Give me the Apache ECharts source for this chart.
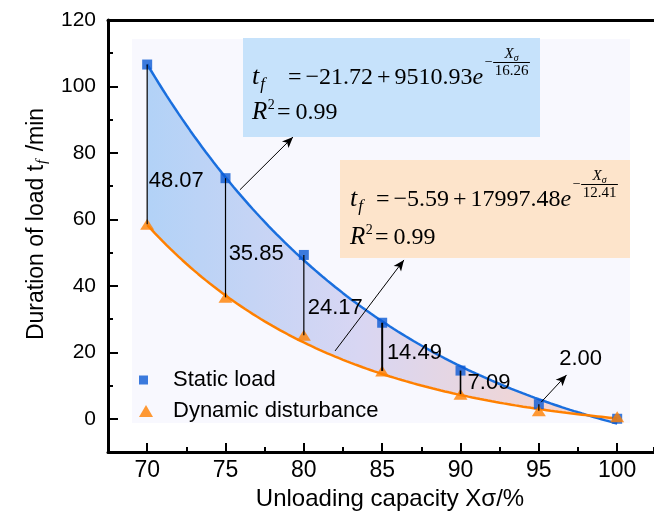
<!DOCTYPE html>
<html>
<head>
<meta charset="utf-8">
<script src="https://cdn.jsdelivr.net/npm/echarts@6/dist/echarts.min.js"></script>
<style>
  html, body { margin: 0; padding: 0; background: #fff; }
  #chart { width: 654px; height: 518px; }
</style>
</head>
<body>
<div id="chart"></div>
<script>
// Unloading capacity (%) and measured load duration (min)
const unloading = [70, 75, 80, 85, 90, 95, 100];
const staticLoad = [106.6, 72.4, 49.3, 28.9, 14.5, 4.4, 0.0];
const dynamicDisturbance = [58.53, 36.55, 25.13, 14.41, 7.41, 2.40, 0.6];

// Axis ticks
const xTicks = [70, 75, 80, 85, 90, 95, 100];
const yTicks = [0, 20, 40, 60, 80, 100, 120];

// Fitted model t_f = a + b * exp(-X / c)
const staticFit = [-21.72, 9510.93, 16.26];
const dynamicFit = [-5.59, 17997.48, 12.41];
const staticR2 = 0.99;
const dynamicR2 = 0.99;

const SANS = "'Liberation Sans', Arial, sans-serif";
const SERIF = "'Liberation Serif', 'Times New Roman', serif";

function fitValue(c, x) { return c[0] + c[1] * Math.exp(-x / c[2]); }
function fitCurve(c) {
  const pts = [];
  const x0 = xTicks[0], x1 = xTicks[xTicks.length - 1];
  for (let x = x0; x <= x1 + 1e-9; x += 0.25) pts.push([x, fitValue(c, x)]);
  return pts;
}
const staticCurve = fitCurve(staticFit);
const dynamicCurve = fitCurve(dynamicFit);

// gap between the two responses at each unloading level
const gapRows = unloading.slice(0, 6).map((x, i) => [x, staticLoad[i], dynamicDisturbance[i]]);
// where each gap value is written (value space) and the width of its connector
const gapLabelAt = [[70.1, 71.6], [75.2, 49.6], [80.25, 33.3], [85.3, 19.9], [90.45, 10.9], [96.3, 18.0]];
const gapLineWidth = [1.2, 1.2, 1.2, 2, 1.6, 1.2];

// ---- equation text helpers ----
const measureCtx = document.createElement('canvas').getContext('2d');
function textWidth(str, font) { measureCtx.font = font; return measureCtx.measureText(str).width; }
function signed(v) { return (v < 0 ? '\u2212' : '') + Math.abs(v).toFixed(2); }
function piece(els, str, x, baseline, size, italic) {
  const font = (italic ? 'italic ' : '') + size + 'px ' + SERIF;
  els.push({
    type: 'text', z: 12, silent: true,
    style: { text: str, x: x, y: baseline - 0.32 * size, font: font, fill: '#000', align: 'left', verticalAlign: 'middle' }
  });
  return textWidth(str, font);
}
// x0: left of "t_f", eqX: left of "=", y1/y2: baselines of the two lines
function equation(x0, eqX, y1, y2, c, r2) {
  const els = [];
  const M = 24;
  let x = x0;
  x += piece(els, 't', x, y1, 26, true);
  piece(els, 'f', x + 1, y1 + 5, 17, true);
  x = eqX;
  x += piece(els, '=', x, y1, M, false) + 4;
  x += piece(els, signed(c[0]), x, y1, M, false) + 4;
  x += piece(els, '+', x, y1, M, false) + 4;
  x += piece(els, c[1].toFixed(2), x, y1, M, false);
  x += piece(els, 'e', x, y1, M, true);
  // exponent: -X_sigma / c
  const mx = x + 1.5;
  const mw = piece(els, '\u2212', mx, y1 - 18, 14, false);
  const den = c[2].toFixed(2);
  const dw = textWidth(den, '15px ' + SERIF);
  const bx0 = mx + mw + 0.5, bx1 = bx0 + dw + 3;
  els.push({ type: 'line', z: 12, silent: true, shape: { x1: bx0, y1: y1 - 22.5, x2: bx1, y2: y1 - 22.5 }, style: { stroke: '#000', lineWidth: 1 } });
  const cx = (bx0 + bx1) / 2;
  const xw = textWidth('X', 'italic 15px ' + SERIF), sw = textWidth('\u03c3', 'italic 10px ' + SERIF);
  const nx = cx - (xw + sw) / 2;
  piece(els, 'X', nx, y1 - 26, 15, true);
  piece(els, '\u03c3', nx + xw, y1 - 23.5, 10, true);
  piece(els, den, cx - dw / 2, y1 - 9, 15, false);
  // R^2 line
  let rx = x0;
  rx += piece(els, 'R', rx, y2, 25, true);
  piece(els, '2', rx + 0.5, y2 - 10, 14, false);
  rx = x0 + 25;
  rx += piece(els, '=', rx, y2, M, false) + 5;
  piece(els, r2.toFixed(2), rx, y2, M, false);
  return els;
}

const graphicEls = [
  // pale inner panel
  { type: 'rect', z: 0, silent: true, shape: { x: 132, y: 39, width: 498, height: 384 }, style: { fill: '#f8f8fe' } },
  // equation boxes
  { type: 'rect', z: 11, silent: true, shape: { x: 243, y: 38, width: 297, height: 99 }, style: { fill: '#c6e2fb' } },
  { type: 'rect', z: 11, silent: true, shape: { x: 340, y: 160, width: 290, height: 98 }, style: { fill: '#fde4cb' } },
  // y axis title
  {
    type: 'text', z: 12, silent: true, x: 37, y: 224, rotation: Math.PI / 2,
    style: {
      text: '{a|Duration of load t}{b|f}{a| /min}', align: 'center', verticalAlign: 'middle',
      rich: {
        a: { fontSize: 23, fontFamily: SANS, fill: '#000', lineHeight: 26 },
        b: { fontSize: 15, fontFamily: SERIF, fontStyle: 'italic', fill: '#000', padding: [10, 2, 0, 1] }
      }
    }
  }
].concat(equation(252, 288, 85, 120, staticFit, staticR2), equation(350, 376, 207, 245, dynamicFit, dynamicR2));

const chart = echarts.init(document.getElementById('chart'), null, { renderer: 'canvas' });

const axisText = { color: '#000', fontFamily: SANS };
const X_MIN = 67.5, X_MAX = 102.35;

chart.setOption({
  animation: false,
  backgroundColor: '#fff',
  grid: { left: 108, top: 20, bottom: 66, right: 0, containLabel: false },
  xAxis: [
    {
      type: 'value', min: X_MIN, max: X_MAX, interval: 2.5, position: 'bottom',
      axisLine: { onZero: false, lineStyle: { color: '#000', width: 3 } },
      axisTick: { inside: true, length: 9, lineStyle: { color: '#000', width: 2 }, customValues: xTicks },
      axisLabel: { ...axisText, fontSize: 23, margin: 7, customValues: xTicks },
      splitLine: { show: false },
      name: 'Unloading capacity X\u03c3/%', nameLocation: 'middle', nameGap: 34,
      nameTextStyle: { ...axisText, fontSize: 24, padding: [0, 0, 0, 18] }
    },
    {
      type: 'value', min: X_MIN, max: X_MAX, interval: 2.5, position: 'bottom',
      axisLine: { show: false, onZero: false },
      axisTick: { inside: true, length: 5, lineStyle: { color: '#000', width: 2 } },
      axisLabel: { show: false }, splitLine: { show: false }
    },
    {
      type: 'value', min: X_MIN, max: X_MAX, position: 'top',
      axisLine: { onZero: false, lineStyle: { color: '#000', width: 3 } },
      axisTick: { show: false }, axisLabel: { show: false }, splitLine: { show: false }
    }
  ],
  yAxis: [
    {
      type: 'value', min: -10, max: 120, interval: 10, position: 'left',
      axisLine: { onZero: false, lineStyle: { color: '#000', width: 3 } },
      axisTick: { inside: true, length: 10, lineStyle: { color: '#000', width: 2 }, customValues: yTicks },
      axisLabel: { ...axisText, fontSize: 21, margin: 12, customValues: yTicks },
      splitLine: { show: false }
    },
    {
      type: 'value', min: -10, max: 120, interval: 10, position: 'left',
      axisLine: { show: false, onZero: false },
      axisTick: { inside: true, length: 5, lineStyle: { color: '#000', width: 2 } },
      axisLabel: { show: false }, splitLine: { show: false }
    }
  ],
  legend: [
    {
      data: [{ name: 'Static load', icon: 'rect' }],
      left: 134, top: 364, itemWidth: 9, itemHeight: 9, selectedMode: false,
      formatter: n => '{s|}' + n,
      textStyle: { ...axisText, fontSize: 22, rich: { s: { width: 20 } } }
    },
    {
      data: [{ name: 'Dynamic disturbance', icon: 'triangle' }],
      left: 134, top: 395, itemWidth: 14, itemHeight: 12, selectedMode: false,
      formatter: n => '{s|}' + n,
      textStyle: { ...axisText, fontSize: 22, rich: { s: { width: 15 } } }
    }
  ],
  graphic: { elements: graphicEls },
  series: [
    {
      // shaded band between the two fitted curves
      type: 'custom', z: 1, silent: true,
      data: [[unloading[0], 0]], encode: { x: 0, y: 1 },
      renderItem(params, api) {
        const pts = staticCurve.map(p => api.coord(p))
          .concat(dynamicCurve.slice().reverse().map(p => api.coord(p)));
        return {
          type: 'polygon', shape: { points: pts },
          style: {
            fill: new echarts.graphic.LinearGradient(0, 0, 1, 0, [
              { offset: 0, color: '#b2d2f7' },
              { offset: 0.45, color: '#d8d6f3' },
              { offset: 1, color: '#fdd6c6' }
            ])
          }
        };
      }
    },
    {
      name: 'Static fit', type: 'line', z: 3, silent: true, showSymbol: false,
      data: staticCurve, lineStyle: { color: '#1a6fde', width: 2.5 }
    },
    {
      name: 'Dynamic fit', type: 'line', z: 3, silent: true, showSymbol: false,
      data: dynamicCurve, lineStyle: { color: '#ff8000', width: 2.5 }
    },
    {
      name: 'Static load', type: 'scatter', z: 4, symbol: 'rect', symbolSize: 10,
      data: unloading.map((x, i) => [x, staticLoad[i]]),
      itemStyle: { color: '#0b5ad4' },
      markLine: {
        silent: true, symbol: ['none', 'arrow'], symbolSize: [7, 11],
        lineStyle: { color: '#000', width: 1, type: 'solid' },
        label: { show: false },
        data: [
          [{ coord: [75.92, 68.9] }, { coord: [79.31, 84.8] }],
          [{ coord: [81.99, 20.4] }, { coord: [86.39, 47.8] }],
          [{ coord: [95.15, 5.0] }, { coord: [96.77, 13.2] }]
        ]
      }
    },
    {
      name: 'Dynamic disturbance', type: 'scatter', z: 4, symbol: 'triangle', symbolSize: [14, 11],
      data: unloading.map((x, i) => [x, dynamicDisturbance[i]]),
      itemStyle: { color: '#ff7f00' }
    },
    {
      // connectors and gap values
      type: 'custom', z: 6, silent: true,
      data: gapRows, encode: { x: 0, y: [1, 2] },
      renderItem(params, api) {
        const i = params.dataIndex;
        const x = api.value(0), s = api.value(1), d = api.value(2);
        const p1 = api.coord([x, s]), p2 = api.coord([x, d]);
        const lp = api.coord(gapLabelAt[i]);
        return {
          type: 'group',
          children: [
            { type: 'line', shape: { x1: p1[0], y1: p1[1], x2: p2[0], y2: p2[1] }, style: { stroke: '#000', lineWidth: gapLineWidth[i] } },
            { type: 'text', style: { text: (s - d).toFixed(2), x: lp[0], y: lp[1], font: '22px ' + SANS, fill: '#000', align: 'left', verticalAlign: 'middle' } }
          ]
        };
      }
    }
  ]
});
</script>
</body>
</html>
